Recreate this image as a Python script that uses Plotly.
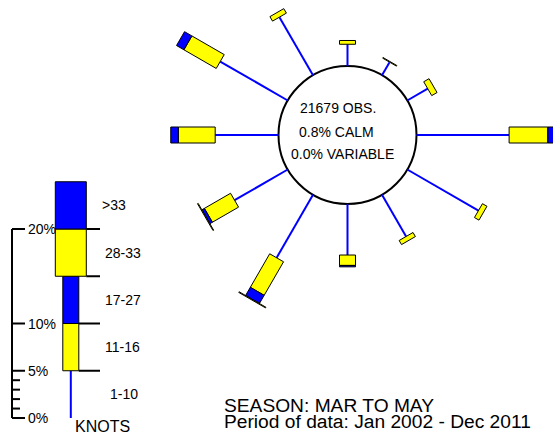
import math
import plotly.graph_objects as go

# ---- page geometry -------------------------------------------------------
W, H = 553, 438
PX_PER_PCT = 9.45          # drawn length of 1 % of observations
CX, CY = 347.5, 135.0      # centre of the rose on the page (px)
HOLE_PCT = 69 / PX_PER_PCT # radius of the central circle, in % units
NARROW = 16 / PX_PER_PCT   # bar width for 11-16 and 17-27 kt
WIDE = 31 / PX_PER_PCT     # bar width for 28-33 and >33 kt

# ---- wind data (% of observations) --------------------------------------
DIRECTIONS = [0, 30, 60, 90, 120, 150, 180, 210, 240, 270, 300, 330]
SPEED_BANDS = ["1-10", "11-16", "17-27", "28-33", ">33"]
PCT_1_10 = [2.3, 1.6, 2.5, 9.8, 8.7, 5.1, 5.4, 7.7, 6.5, 6.7, 8.25, 7.1]
PCT_11_16 = [0.4, 0.08, 0.65, 4.1, 0.55, 0.5, 1.1, 4.1, 3.2, 3.9, 3.95, 0.55]
PCT_17_27 = [0.0, 0.0, 0.0, 1.2, 0.0, 0.0, 0.15, 1.0, 0.3, 0.8, 0.9, 0.0]
PCT_28_33 = [0.0, 0.0, 0.0, 0.0, 0.0, 0.0, 0.0, 0.08, 0.08, 0.0, 0.0, 0.0]
PCT_GT_33 = [0.0, 0.0, 0.0, 0.0, 0.0, 0.0, 0.0, 0.0, 0.0, 0.0, 0.0, 0.0]

OBS = 21679
CALM_PCT = 0.8
VARIABLE_PCT = 0.0
SEASON = "SEASON: MAR TO MAY"
PERIOD = "Period of data: Jan 2002 - Dec 2011"

# ---- key (speed scale) ---------------------------------------------------
LEGEND_PCT = [5, 5, 5, 5, 5]
LEGEND_TICKS = [0, 5, 10, 20]
LEGEND_MINOR = [1, 2, 3, 4]

BLUE = "#0000FF"
YELLOW = "#FFFF00"
BAND_COLORS = [BLUE, YELLOW, BLUE, YELLOW, BLUE]
BAND_WIDTHS = [None, NARROW, NARROW, WIDE, WIDE]
FONT = "Liberation Sans, Arial, sans-serif"


def dx(px):
    return (px - CX) / PX_PER_PCT


def dy(py):
    return (CY - py) / PX_PER_PCT


# key origin (0 %) and axis position
KEY_X, KEY_Y = dx(70.8), dy(418)
KEY_AXIS_X = dx(12)


def bar_polygon(ox, oy, theta_deg, r0, r1, width):
    t = math.radians(theta_deg)
    ux, uy = math.sin(t), math.cos(t)
    px, py = math.cos(t), -math.sin(t)
    hw = width / 2
    pts = [
        (ox + ux * r0 + px * hw, oy + uy * r0 + py * hw),
        (ox + ux * r1 + px * hw, oy + uy * r1 + py * hw),
        (ox + ux * r1 - px * hw, oy + uy * r1 - py * hw),
        (ox + ux * r0 - px * hw, oy + uy * r0 - py * hw),
        (ox + ux * r0 + px * hw, oy + uy * r0 + py * hw),
    ]
    return [p[0] for p in pts], [p[1] for p in pts]


bands = [PCT_1_10, PCT_11_16, PCT_17_27, PCT_28_33, PCT_GT_33]

# collect geometry per speed band: rose spokes + key column
seg_x = [[] for _ in bands]
seg_y = [[] for _ in bands]


def add_stack(ox, oy, theta, base, values):
    r = base
    for b, v in enumerate(values):
        if v <= 0:
            continue
        r1 = r + v
        if BAND_WIDTHS[b] is None:
            t = math.radians(theta)
            seg_x[b] += [ox + math.sin(t) * r, ox + math.sin(t) * r1, None]
            seg_y[b] += [oy + math.cos(t) * r, oy + math.cos(t) * r1, None]
        else:
            xs, ys = bar_polygon(ox, oy, theta, r, r1, BAND_WIDTHS[b])
            seg_x[b] += xs + [None]
            seg_y[b] += ys + [None]
        r = r1


for i, d in enumerate(DIRECTIONS):
    add_stack(0.0, 0.0, d, HOLE_PCT, [band[i] for band in bands])

add_stack(KEY_X, KEY_Y, 0, 0.0, LEGEND_PCT)

fig = go.Figure()

# key: axis, ticks and band separators (drawn below the bars)
axis_x = [KEY_AXIS_X, KEY_AXIS_X, None]
axis_y = [KEY_Y + min(LEGEND_TICKS), KEY_Y + max(LEGEND_TICKS), None]
for t in LEGEND_TICKS:
    axis_x += [KEY_AXIS_X, KEY_AXIS_X + 13 / PX_PER_PCT, None]
    axis_y += [KEY_Y + t, KEY_Y + t, None]
for t in LEGEND_MINOR:
    axis_x += [KEY_AXIS_X, KEY_AXIS_X + 8 / PX_PER_PCT, None]
    axis_y += [KEY_Y + t, KEY_Y + t, None]
level = 0.0
sep_right = dx(100)
for b, v in enumerate(LEGEND_PCT[:-1]):
    level += v
    hw = (NARROW if b < 2 else WIDE) / 2
    axis_x += [KEY_X + hw, sep_right, None]
    axis_y += [KEY_Y + level, KEY_Y + level, None]

fig.add_trace(go.Scatter(x=axis_x, y=axis_y, mode="lines",
                         line=dict(color="black", width=2),
                         hoverinfo="skip"))

# light winds as plain spokes, stronger winds as bars
fig.add_trace(go.Scatter(x=seg_x[0], y=seg_y[0], mode="lines",
                         line=dict(color=BLUE, width=2), hoverinfo="skip"))
for b in range(1, len(bands)):
    if not seg_x[b]:
        continue
    fig.add_trace(go.Scatter(x=seg_x[b], y=seg_y[b], mode="lines",
                             fill="toself", fillcolor=BAND_COLORS[b],
                             line=dict(color="black", width=1),
                             hoverinfo="skip"))

annotations = []


def label(text, px, py, size, anchor="left"):
    annotations.append(dict(x=dx(px), y=dy(py), xref="x", yref="y",
                            text=text, showarrow=False, xanchor=anchor,
                            yanchor="middle",
                            font=dict(family=FONT, size=size, color="black")))


# centre statistics
label(f"{OBS} OBS.", 337.7, 107.7, 14, "center")
label(f"{CALM_PCT:.1f}% CALM", 336.2, 131.7, 14, "center")
label(f"{VARIABLE_PCT:.1f}% VARIABLE", 342.8, 154.0, 14, "center")

# key labels
for t in LEGEND_TICKS:
    label(f"{t}%", 25.5, 418 - t * PX_PER_PCT, 14)
band_label_px = [108, 103, 103, 103, 100]
level = 0.0
for name, v, lx in zip(SPEED_BANDS, LEGEND_PCT, band_label_px):
    label(name, lx, 418 - (level + v / 2) * PX_PER_PCT, 14)
    level += v
label("KNOTS", 72.5, 426, 16)

# footer
label(SEASON, 222, 405.6, 19.2)
label(PERIOD, 222, 421.2, 19.2)

fig.update_layout(
    width=W, height=H,
    margin=dict(l=0, r=0, t=0, b=0),
    paper_bgcolor="white", plot_bgcolor="white",
    showlegend=False,
    xaxis=dict(range=[dx(0), dx(W)], visible=False, fixedrange=True),
    yaxis=dict(range=[dy(H), dy(0)], visible=False, fixedrange=True),
    annotations=annotations,
    shapes=[dict(type="circle", xref="x", yref="y",
                 x0=-HOLE_PCT, x1=HOLE_PCT, y0=-HOLE_PCT, y1=HOLE_PCT,
                 line=dict(color="black", width=2), fillcolor="white",
                 layer="below")],
)

fig.write_html("out.html")
